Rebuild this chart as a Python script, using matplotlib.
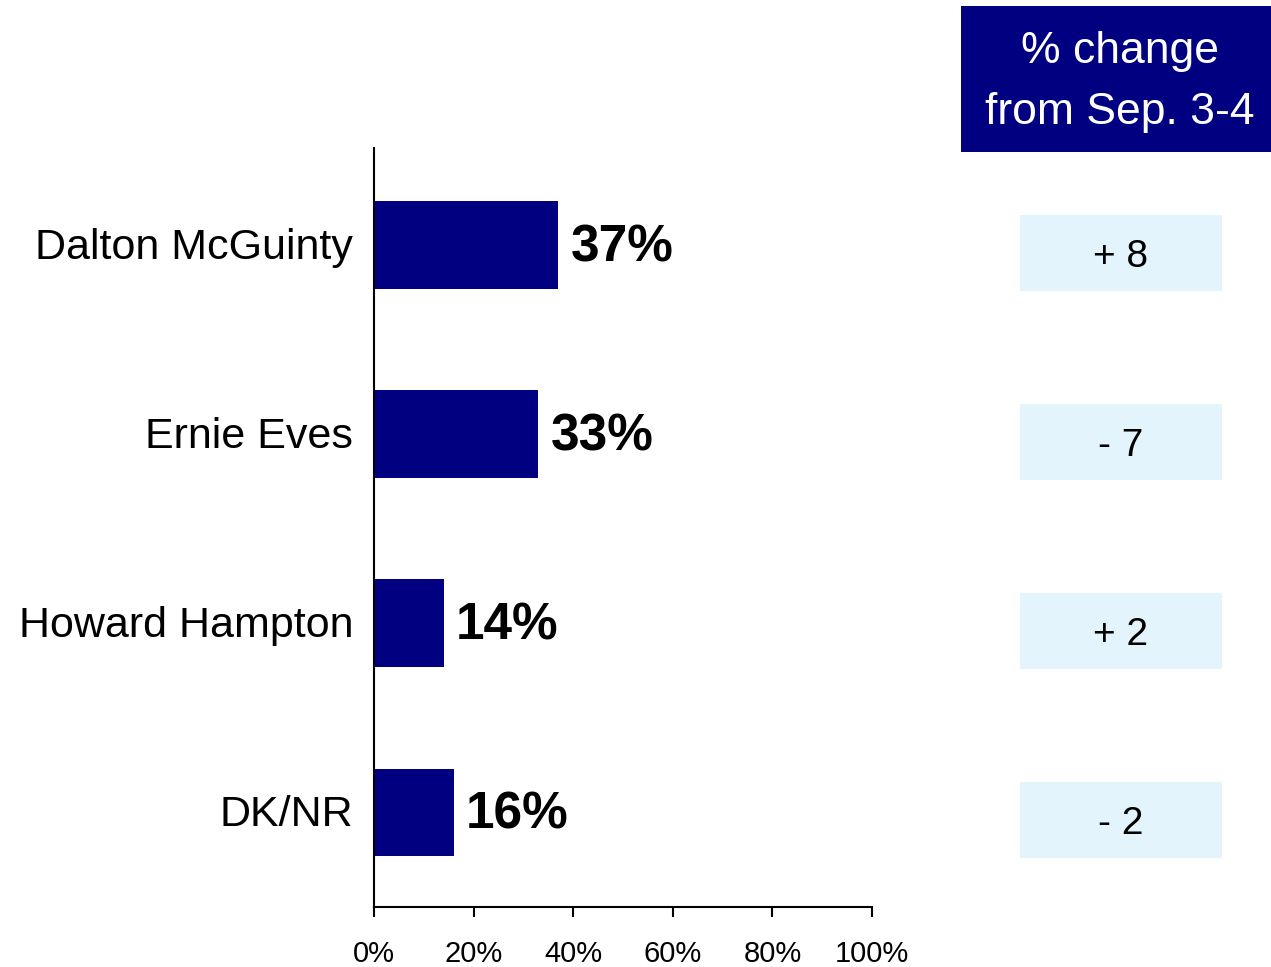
import matplotlib.pyplot as plt
from matplotlib.patches import Rectangle

# data
leaders = ["Dalton McGuinty", "Ernie Eves", "Howard Hampton", "DK/NR"]
support = [37, 33, 14, 16]
change_labels = ["+ 8", "- 7", "+ 2", "- 2"]
xticks = [0, 20, 40, 60, 80, 100]

NAVY = "#000080"
LIGHT = "#E3F4FC"
font = ["Liberation Sans", "DejaVu Sans"]

W, H = 1271, 967
fig = plt.figure(figsize=(W / 100, H / 100), dpi=100)

# main bar axes
ax = fig.add_axes([374 / W, (H - 907) / H, (872 - 374) / W, (907 - 148) / H])
ypos = list(range(len(leaders)))
ax.barh(ypos, support, height=0.465, color=NAVY)
ax.set_xlim(0, 100)
ax.set_ylim(3.5, -0.515)

for s in ["top", "right"]:
    ax.spines[s].set_visible(False)
for s in ["left", "bottom"]:
    ax.spines[s].set_linewidth(1.5)
    ax.spines[s].set_color("black")

ax.set_xticks(xticks)
ax.set_xticklabels([f"{t}%" for t in xticks], fontsize=21, family=font)
ax.tick_params(axis="x", length=7, width=1.5, pad=17)
ax.set_yticks([])

for i, name in enumerate(leaders):
    ax.annotate(name, xy=(0, i), xytext=(-15, -2), textcoords="offset points",
                ha="right", va="center", fontsize=31, family=font)
    ax.annotate(f"{support[i]}%", xy=(support[i], i), xytext=(9, -2),
                textcoords="offset points", ha="left", va="center",
                fontsize=37, fontweight="bold", family=font)

# header box
fig.patches.append(Rectangle((961 / W, (H - 152) / H), (1271 - 961) / W, (152 - 6) / H,
                             transform=fig.transFigure, facecolor=NAVY, edgecolor="none"))
fig.text(1120 / W, (H - 82) / H, "% change\nfrom Sep. 3-4", color="white",
         ha="center", va="center", fontsize=32, family=font, linespacing=1.6)

# change column, same vertical scale as the bars
ax2 = fig.add_axes([1020 / W, (H - 907) / H, (1222 - 1020) / W, (907 - 148) / H])
ax2.set_xlim(0, 1)
ax2.set_ylim(3.5, -0.515)
ax2.axis("off")
for i, lab in enumerate(change_labels):
    ax2.add_patch(Rectangle((0, i + 0.04 - 0.2), 1, 0.4, facecolor=LIGHT, edgecolor="none"))
    ax2.text(0.5, i + 0.06, lab, ha="center", va="center", fontsize=28, family=font)

fig.savefig("out.png", dpi=100)
